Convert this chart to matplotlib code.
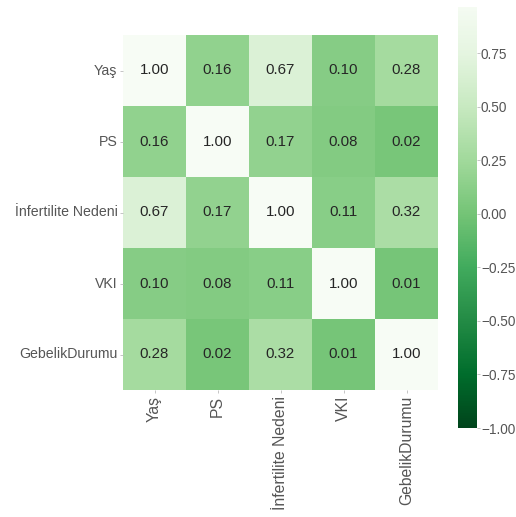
import matplotlib

matplotlib.use("Agg")
import matplotlib.pyplot as plt
import numpy as np
import seaborn as sns

# correlation matrix of the clinical variables
labels = ["Yaş", "PS", "İnfertilite Nedeni", "VKI", "GebelikDurumu"]
corr = np.array([
    [1.00, 0.16, 0.67, 0.10, 0.28],
    [0.16, 1.00, 0.17, 0.08, 0.02],
    [0.67, 0.17, 1.00, 0.11, 0.32],
    [0.10, 0.08, 0.11, 1.00, 0.01],
    [0.28, 0.02, 0.32, 0.01, 1.00],
])
cbar_ticks = [-1.00, -0.75, -0.50, -0.25, 0.00, 0.25, 0.50, 0.75]

TICK = "#555555"
plt.rcParams.update({
    "font.family": ["Liberation Sans", "DejaVu Sans"],
    "font.size": 10,
    "xtick.color": TICK, "ytick.color": TICK,
    "xtick.labelcolor": TICK, "ytick.labelcolor": TICK,
})

fig = plt.figure(figsize=(5.16, 5.17), dpi=100)
ax = fig.add_axes([123 / 516, 1 - 390 / 517, 315 / 516, 355 / 517])
cax = fig.add_axes([458 / 516, 1 - 428 / 517, 19 / 516, 421 / 517])

sns.heatmap(corr, ax=ax, cbar_ax=cax, cmap="Greens_r", vmin=-1, vmax=1,
            annot=True, fmt=".2f", annot_kws={"size": 10.8, "color": "#262626"},
            xticklabels=labels, yticklabels=labels)

ax.tick_params(axis="both", length=2.5, width=0.6, color="#bbbbbb", pad=1.5)
ax.set_yticklabels(labels, rotation=0, fontsize=10.2)
ax.set_xticklabels(labels, rotation=90, fontsize=11.3)

# colour bar shows the scale up to just below 1
cax.set_ylim(-1, 0.965)
cax.set_yticks(cbar_ticks)
cax.set_yticklabels([f"{t:.2f}".replace("-", "\u2212") for t in cbar_ticks])
cax.tick_params(length=2, width=0.6, color="#bbbbbb", pad=0.8,
                labelsize=9.8, labelcolor=TICK)
for s in cax.spines.values():
    s.set_visible(False)

fig.savefig("out.png", dpi=100, facecolor="white")
